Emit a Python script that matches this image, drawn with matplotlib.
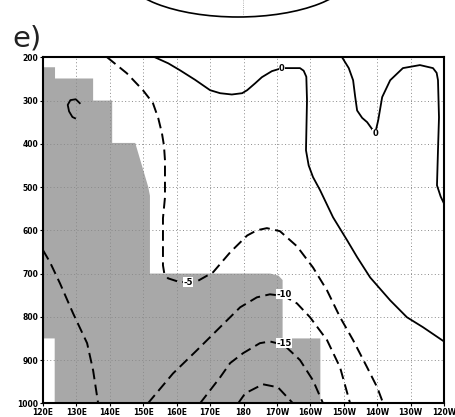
import numpy as np
import matplotlib
matplotlib.use('Agg')
import matplotlib.pyplot as plt
from matplotlib.patches import Ellipse

# axis ticks
lon_ticks = [120, 130, 140, 150, 160, 170, 180, 190, 200, 210, 220, 230, 240]
lon_labels = ['120E', '130E', '140E', '150E', '160E', '170E', '180',
              '170W', '160W', '150W', '140W', '130W', '120W']
lev_ticks = [200, 300, 400, 500, 600, 700, 800, 900, 1000]

# grey shaded region (lon, pressure outline)
shade_lon = [120, 123.6, 123.6, 135, 135, 140.7, 140.7, 147.6, 151.5, 152, 152,
             188, 190.5, 191.7, 191.7, 203, 203, 123.5, 123.5, 120]
shade_lev = [223, 223, 249, 249, 300, 300, 398, 398, 500, 520, 700,
             700, 705, 715, 850, 850, 1000, 1000, 850, 850]

# solid zero contours
zero1_lon = [153.5, 157.5, 161.0, 165.5, 170.0, 173.0, 176.5, 179.6, 181.1, 183.5,
             185.5, 188.5, 191.5, 196.9, 198.0, 198.8, 199.0, 198.7, 199.5, 200.8,
             202.9, 206.8, 211.0, 214.0, 217.9, 223.9, 228.9, 233.7, 240.0]
zero1_lev = [200, 214, 230, 252, 276, 283, 286, 283, 276, 260,
             246, 232, 225, 225, 231, 245, 299, 415, 450, 477,
             507, 570, 623, 662, 709, 762, 801, 824, 857]
zero2_lon = [209.5, 211.5, 212.8, 213.4, 214.0, 215.5, 217.0, 219.4, 220.3, 221.5,
             223.9, 227.7, 232.8, 236.7, 237.8, 238.2, 238.5, 238.2, 237.9, 239.0,
             240.0]
zero2_lev = [200, 225, 253, 290, 323, 340, 350, 376, 346, 292,
             253, 225, 218, 225, 236, 253, 339, 415, 496, 522,
             538]
zero3_lon = [131.0, 129.8, 128.2, 127.4, 127.8, 128.8, 129.6]
zero3_lev = [306, 297, 299, 310, 325, 338, 341]

# dashed negative contours
m5a_lon = [139.2, 145.1, 149.9, 152.9, 154.5, 155.6, 156.2, 156.5, 156.5, 155.9,
           155.9, 156.3, 157.4, 161.0, 166.1, 170.9, 176.0, 181.1, 184.0, 187.0,
           190.9, 196.0, 200.8, 205.0, 208.9, 212.8, 217.0, 220.0, 221.8]
m5a_lev = [200, 237, 276, 306, 341, 376, 404, 438, 524, 572,
           681, 700, 711, 720, 718, 697, 651, 612, 600, 595,
           602, 637, 686, 739, 801, 854, 917, 963, 1000]
m5b_lon = [120.0, 122.1, 125.1, 129.0, 133.2, 135.0, 136.5]
m5b_lev = [646, 674, 723, 792, 861, 924, 1000]
m10_lon = [151.4, 158.9, 166.1, 173.0, 179.0, 184.0, 187.9, 192.1, 196.0, 199.9,
           205.0, 208.9, 211.9]
m10_lev = [1000, 931, 877, 824, 778, 755, 748, 752, 769, 801,
           854, 917, 1000]
m15_lon = [167.0, 173.0, 176.0, 179.9, 184.9, 187.9, 192.1, 196.9, 200.8, 203.8]
m15_lev = [1000, 940, 907, 884, 861, 857, 865, 900, 947, 1000]
m20_lon = [178.4, 180.5, 185.8, 190.3, 194.8]
m20_lev = [1000, 977, 956, 963, 1000]

# contour labels
lab_text = ['0', '0', '-5', '-10', '-15']
lab_lon = [191.5, 219.4, 163.4, 192.1, 192.1]
lab_lev = [225, 376, 720, 748, 861]

fig = plt.figure(figsize=(4.55, 4.17), dpi=100)

# fragment of the panel above
top = fig.add_axes([0, 0, 1, 1])
top.set_xlim(0, 455)
top.set_ylim(417, 0)
top.axis('off')
top.add_patch(Ellipse((238, -28), 230, 90, fill=False, color='black', lw=1.2))
top.plot([243, 243], [0, 15], color='#999999', lw=0.6, ls=':')
top.text(12, 46, 'e)', fontsize=21, va='baseline', ha='left', color='#222222')

ax = fig.add_axes([43 / 455, 1 - 403.3 / 417, 401 / 455, 346 / 417])
ax.set_xlim(120, 240)
ax.set_ylim(1000, 200)

ax.fill(shade_lon, shade_lev, color='#a8a8a8', lw=0, zorder=1)

for v in lon_ticks[1:-1]:
    ax.axvline(v, color='#8a8a8a', lw=0.7, ls=(0, (1, 2.5)), zorder=2)
for v in lev_ticks[1:-1]:
    ax.axhline(v, color='#8a8a8a', lw=0.7, ls=(0, (1, 2.5)), zorder=2)

solid_kw = dict(color='black', lw=1.3, zorder=3, solid_joinstyle='round')
dash_kw = dict(color='black', lw=1.4, ls=(0, (5.5, 2.8)), zorder=3)
ax.plot(zero1_lon, zero1_lev, **solid_kw)
ax.plot(zero2_lon, zero2_lev, **solid_kw)
ax.plot(zero3_lon, zero3_lev, **solid_kw)
ax.plot(m5a_lon, m5a_lev, **dash_kw)
ax.plot(m5b_lon, m5b_lev, **dash_kw)
ax.plot(m10_lon, m10_lev, **dash_kw)
ax.plot(m15_lon, m15_lev, **dash_kw)
ax.plot(m20_lon, m20_lev, **dash_kw)

for t, x, y in zip(lab_text, lab_lon, lab_lev):
    ax.text(x, y, t, fontsize=6, fontweight='bold', ha='center', va='center',
            zorder=4, bbox=dict(facecolor='white', edgecolor='none', pad=0.3))

ax.set_xticks(lon_ticks)
ax.set_xticklabels(lon_labels)
ax.set_yticks(lev_ticks)
ax.tick_params(axis='both', labelsize=5.5, length=2.5, width=0.8, pad=1)
for lbl in ax.get_xticklabels() + ax.get_yticklabels():
    lbl.set_fontweight('bold')
for s in ax.spines.values():
    s.set_linewidth(1.5)

fig.savefig('out.png', dpi=100)
